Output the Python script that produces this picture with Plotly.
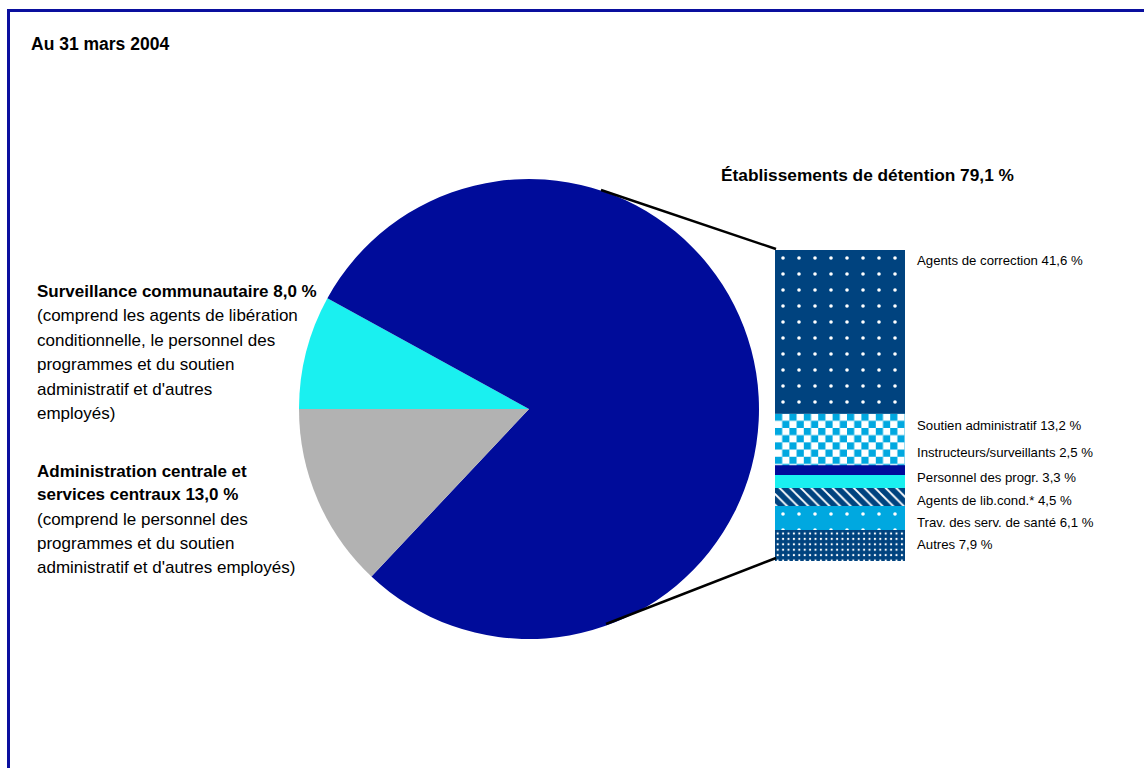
import base64
import plotly.graph_objects as go

W, H = 1144, 768

# Overall split of staff
pie_labels = ["Surveillance communautaire", "Établissements de détention",
              "Administration centrale et services centraux"]
pie_values = [8.0, 79.1, 13.0]
pie_colors = ["#1AF0F0", "#000C9A", "#B2B2B2"]

# Breakdown of the institutions share, bottom to top
bar_names = ["Autres", "Trav. des serv. de santé", "Agents de lib.cond.*",
             "Personnel des progr.", "Instructeurs/surveillants",
             "Soutien administratif", "Agents de correction"]
bar_values = [7.9, 6.1, 4.5, 3.3, 2.5, 13.2, 41.6]
bar_labels = ["Autres 7,9 %", "Trav. des serv. de santé 6,1 %",
              "Agents de lib.cond.* 4,5 %", "Personnel des progr. 3,3 %",
              "Instructeurs/surveillants 2,5 %", "Soutien administratif 13,2 %",
              "Agents de correction 41,6 %"]

NAVY = "#00437F"
SKY = "#00A8E0"


def pat(shape, size, solidity):
    return dict(shape=shape, fgcolor="white", fgopacity=1, size=size,
                solidity=solidity, fillmode="overlay")


bar_styles = [
    dict(color=NAVY, pattern=pat(".", 5.4, 0.14)),
    dict(color=SKY, pattern=pat(".", 16, 0.04)),
    dict(color=NAVY, pattern=pat("\\", 7.5, 0.25)),
    dict(color="#1AF0F0"),
    dict(color="#000C9A"),
    dict(color=SKY),  # checkerboard texture laid on top below
    dict(color=NAVY, pattern=pat(".", 16, 0.04)),
]
CHECKER = "Soutien administratif"


def px(x):
    return x / W


def py(y):
    return 1 - y / H


fig = go.Figure()

# Pie: centre (529, 409), radius 230 px
cx, cy, r = 529, 409, 230
fig.add_trace(go.Pie(
    labels=pie_labels, values=pie_values, sort=False, direction="clockwise",
    rotation=-90, marker=dict(colors=pie_colors, line=dict(width=0)),
    textinfo="none", hoverinfo="label+percent", showlegend=False,
    domain=dict(x=[px(cx - r), px(cx + r)], y=[py(cy + r), py(cy - r)]),
))

# Stacked column
for name, val, style in zip(bar_names, bar_values, bar_styles):
    fig.add_trace(go.Bar(
        x=[0], y=[val], width=1, name=name, showlegend=False,
        marker=dict(line=dict(width=0), **style),
    ))

bar_x0, bar_x1, bar_top, bar_bot = 775, 905, 250, 561
total = sum(bar_values)

fig.update_layout(
    width=W, height=H, margin=dict(l=0, r=0, t=0, b=0),
    paper_bgcolor="white", plot_bgcolor="rgba(0,0,0,0)",
    barmode="stack", bargap=0,
    xaxis=dict(domain=[px(bar_x0), px(bar_x1)], range=[-0.5, 0.5], visible=False, fixedrange=True),
    yaxis=dict(domain=[py(bar_bot), py(bar_top)], range=[0, total], visible=False, fixedrange=True),
    font=dict(family="Liberation Sans, Arial, sans-serif", color="black"),
)

# Checkerboard fill for the "Soutien administratif" segment, stretched over
# that segment's extent on the column's own axes.
idx = bar_names.index(CHECKER)
seg_base = sum(bar_values[:idx])
seg_val = bar_values[idx]
seg_w = bar_x1 - bar_x0
seg_h = seg_val / total * (bar_bot - bar_top)
cell = 7.2
checker_svg = (
    f'<svg xmlns="http://www.w3.org/2000/svg" width="{seg_w}" height="{seg_h:.2f}" '
    f'viewBox="0 0 {seg_w} {seg_h:.2f}" preserveAspectRatio="none">'
    f'<defs><pattern id="c" width="{2*cell}" height="{2*cell}" patternUnits="userSpaceOnUse">'
    f'<rect width="{2*cell}" height="{2*cell}" fill="white"/>'
    f'<rect width="{cell}" height="{cell}" fill="{SKY}"/>'
    f'<rect x="{cell}" y="{cell}" width="{cell}" height="{cell}" fill="{SKY}"/>'
    f'</pattern></defs><rect width="100%" height="100%" fill="url(#c)"/></svg>'
)
checker_uri = "data:image/svg+xml;base64," + base64.b64encode(checker_svg.encode()).decode()
fig.add_layout_image(
    source=checker_uri, xref="x", yref="y", x=-0.5, y=seg_base + seg_val,
    sizex=1, sizey=seg_val, sizing="stretch", xanchor="left", yanchor="top",
    layer="above",
)

ann = []


def text(x, y, s, size, bold=False):
    ann.append(dict(
        x=px(x), y=py(y), xref="paper", yref="paper", xanchor="left", yanchor="middle",
        text=f"<b>{s}</b>" if bold else s, showarrow=False,
        font=dict(size=size, color="black"),
    ))


text(29, 44, "Au 31 mars 2004", 17.5, bold=True)
text(719, 175, "Établissements de détention 79,1 %", 17.3, bold=True)

left_a = [("Surveillance communautaire 8,0 %", True),
          ("(comprend les agents de libération", False),
          ("conditionnelle, le personnel des", False),
          ("programmes et du soutien", False),
          ("administratif et d'autres", False),
          ("employés)", False)]
for i, (s, b) in enumerate(left_a):
    text(35, 291.5 + 24.4 * i, s, 17, bold=b)

left_b = [("Administration centrale et", True, 471.5),
          ("services centraux 13,0 %", True, 494),
          ("(comprend le personnel des", False, 519.5),
          ("programmes et du soutien", False, 543.5),
          ("administratif et d'autres employés)", False, 567.5)]
for s, b, y in left_b:
    text(35, y, s, 17, bold=b)

label_y = [544, 522, 500, 477, 452.5, 425, 260]
for s, y in zip(bar_labels, label_y):
    text(915, y, s, 13.2)

fig.update_layout(annotations=ann)

shapes = [
    # connectors from the blue slice to the column
    dict(type="line", xref="paper", yref="paper", x0=px(601), y0=py(190), x1=px(776), y1=py(249),
         line=dict(color="black", width=2.5)),
    dict(type="line", xref="paper", yref="paper", x0=px(606), y0=py(624), x1=px(776), y1=py(558),
         line=dict(color="black", width=2.5)),
    # frame
    dict(type="rect", xref="paper", yref="paper", x0=px(8.5), y0=py(10.5), x1=px(1160), y1=py(790),
         line=dict(color="#0A0F9E", width=3), fillcolor="rgba(0,0,0,0)", layer="above"),
]
fig.update_layout(shapes=shapes)

fig.write_html("out.html")
